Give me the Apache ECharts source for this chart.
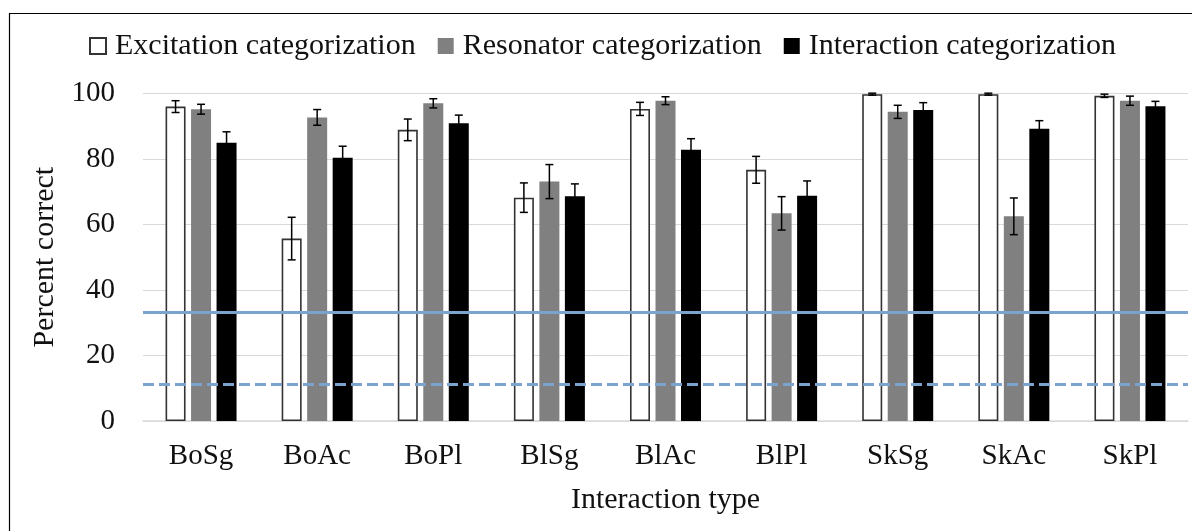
<!DOCTYPE html>
<html>
<head>
<meta charset="utf-8">
<script src="https://cdn.jsdelivr.net/npm/echarts@6/dist/echarts.min.js"></script>
<style>
  html, body { margin: 0; padding: 0; background: #fff; }
  #chart { width: 1192px; height: 531px; }
</style>
</head>
<body>
<div id="chart"></div>
<script>
// Interaction types on the x axis
const categories = ['BoSg', 'BoAc', 'BoPl', 'BlSg', 'BlAc', 'BlPl', 'SkSg', 'SkAc', 'SkPl'];

// Mean percent correct per task, with error bar half-lengths
const excitation    = [96.0, 55.7, 88.9, 68.2, 95.3, 76.7, 99.8, 99.8, 99.3];
const excitationErr = [1.8, 6.5, 3.3, 4.5, 2.0, 4.1, 0.3, 0.3, 0.5];
const resonator     = [95.2, 92.7, 97.0, 73.1, 97.8, 63.4, 94.4, 62.5, 97.8];
const resonatorErr  = [1.5, 2.4, 1.4, 5.2, 1.2, 5.1, 2.0, 5.6, 1.4];
const interaction   = [85.0, 80.4, 90.9, 68.6, 82.8, 68.8, 95.0, 89.2, 96.1];
const interactionErr = [3.3, 3.5, 2.5, 3.8, 3.4, 4.5, 2.2, 2.5, 1.5];

// Chance levels: three-way and nine-way choice
const chanceThree = 100 / 3;
const chanceNine = 100 / 9;

const yTicks = [0, 20, 40, 60, 80, 100];

const FONT = "'Liberation Serif', 'DejaVu Serif', serif";
const TEXT = '#111';
const BAR_W = 20;
const BAR_GAP = 5.5;
const REF_BLUE = '#7ba3cd';

const chart = echarts.init(document.getElementById('chart'), null, { renderer: 'canvas' });

function errorSeries(name, means, errs, slot) {
  return {
    type: 'custom',
    name: name + ' error',
    z: 5,
    silent: true,
    encode: { x: 0, y: 1 },
    data: means.map((m, i) => [i, m, errs[i]]),
    renderItem: function (params, api) {
      const idx = api.value(0);
      const mean = api.value(1);
      const err = api.value(2);
      const top = api.coord([idx, mean + err]);
      const bot = api.coord([idx, mean - err]);
      const x = top[0] + (slot - 1) * (BAR_W + BAR_GAP);
      const cap = 4;
      const style = { stroke: '#000', lineWidth: 1.5 };
      return {
        type: 'group',
        children: [
          { type: 'line', shape: { x1: x, y1: top[1], x2: x, y2: bot[1] }, style: style },
          { type: 'line', shape: { x1: x - cap, y1: top[1], x2: x + cap, y2: top[1] }, style: style },
          { type: 'line', shape: { x1: x - cap, y1: bot[1], x2: x + cap, y2: bot[1] }, style: style }
        ]
      };
    }
  };
}

const option = {
  animation: false,
  backgroundColor: '#fff',
  textStyle: { fontFamily: FONT, color: TEXT },
  graphic: [{
    type: 'rect',
    left: 7, top: 11,
    shape: { width: 1200, height: 540 },
    style: { fill: 'none', stroke: '#000', lineWidth: 1.2 },
    silent: true,
    z: -1
  }],
  legend: {
    data: ['Excitation categorization', 'Resonator categorization', 'Interaction categorization'],
    icon: 'rect',
    left: 84,
    top: 26,
    itemWidth: 16,
    itemHeight: 16,
    itemGap: 22,
    textStyle: { fontFamily: FONT, fontSize: 30, color: TEXT, padding: [0, 0, 0, 4] },
    selectedMode: false
  },
  grid: { left: 143, right: 4, top: 93.5, bottom: 110, containLabel: false },
  xAxis: {
    type: 'category',
    data: categories,
    name: 'Interaction type',
    nameLocation: 'middle',
    nameGap: 64,
    nameTextStyle: { fontFamily: FONT, fontSize: 30, color: TEXT },
    axisLine: { show: true, lineStyle: { color: '#d9d9d9', width: 1.5 } },
    axisTick: { show: false },
    axisLabel: { fontFamily: FONT, fontSize: 29, color: TEXT, margin: 21 }
  },
  yAxis: {
    type: 'value',
    min: yTicks[0],
    max: yTicks[yTicks.length - 1],
    interval: yTicks[1] - yTicks[0],
    name: 'Percent correct',
    nameLocation: 'middle',
    nameGap: 82,
    nameTextStyle: { fontFamily: FONT, fontSize: 30, color: TEXT },
    axisLine: { show: false },
    axisTick: { show: false },
    axisLabel: { fontFamily: FONT, fontSize: 29, color: TEXT, margin: 28 },
    splitLine: { lineStyle: { color: '#d9d9d9', width: 1.2 } }
  },
  series: [
    {
      name: 'Excitation categorization',
      type: 'bar',
      data: excitation,
      barWidth: BAR_W,
      barGap: (BAR_GAP / BAR_W * 100) + '%',
      itemStyle: { color: '#ffffff', borderColor: '#333333', borderWidth: 1.6 },
      markLine: {
        silent: true,
        symbol: 'none',
        label: { show: false },
        z: 6,
        data: [
          { yAxis: chanceThree, lineStyle: { color: REF_BLUE, width: 3, type: 'solid' } },
          { yAxis: chanceNine, lineStyle: { color: REF_BLUE, width: 3, type: [11, 5] } }
        ]
      }
    },
    {
      name: 'Resonator categorization',
      type: 'bar',
      data: resonator,
      barWidth: BAR_W,
      barGap: (BAR_GAP / BAR_W * 100) + '%',
      itemStyle: { color: '#808080' }
    },
    {
      name: 'Interaction categorization',
      type: 'bar',
      data: interaction,
      barWidth: BAR_W,
      barGap: (BAR_GAP / BAR_W * 100) + '%',
      itemStyle: { color: '#000000' }
    },
    errorSeries('Excitation categorization', excitation, excitationErr, 0),
    errorSeries('Resonator categorization', resonator, resonatorErr, 1),
    errorSeries('Interaction categorization', interaction, interactionErr, 2)
  ]
};

chart.setOption(option);
</script>
</body>
</html>
